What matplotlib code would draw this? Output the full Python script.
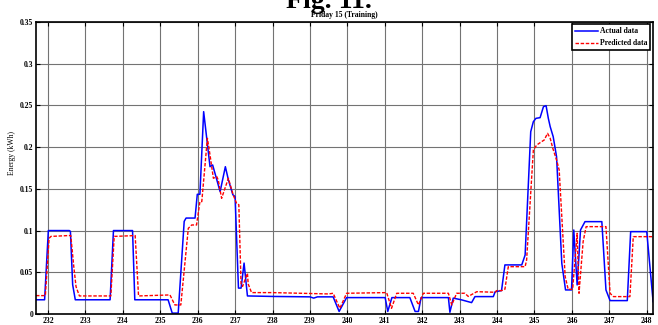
import numpy as np
import matplotlib
matplotlib.use('Agg')
import matplotlib.pyplot as plt

plt.rcParams['font.family'] = ['Liberation Serif', 'DejaVu Serif']
plt.rcParams['font.weight'] = 'bold'

# actual data (blue)
actual_x = [231.68, 231.91, 232.01, 232.57, 232.60, 232.66, 232.73, 233.66, 233.75,
            234.26, 234.32, 235.21, 235.32, 235.48, 235.64, 235.69, 235.93, 235.99,
            236.06, 236.16, 236.33, 236.40, 236.60, 236.74, 236.82, 236.94, 237.00,
            237.09, 237.16, 237.24, 237.33, 238.00, 239.00, 239.10, 239.20, 239.62,
            239.78, 239.98, 241.01, 241.08, 241.19, 241.67, 241.81, 241.90, 241.97,
            242.70, 242.74, 242.83, 243.06, 243.32, 243.41, 243.90, 243.95, 244.12,
            244.21, 244.66, 244.75, 244.90, 244.97, 245.04, 245.15, 245.24, 245.31,
            245.37, 245.42, 245.50, 245.59, 245.73, 245.83, 245.99, 246.05, 246.14,
            246.23, 246.35, 246.80, 246.91, 247.02, 247.48, 247.57, 248.00, 248.17]
actual_y = [0.017, 0.017, 0.100, 0.100, 0.099, 0.035, 0.017, 0.017, 0.100,
            0.100, 0.017, 0.017, 0.001, 0.001, 0.111, 0.115, 0.115, 0.1435,
            0.1435, 0.2426, 0.1766, 0.1787, 0.1467, 0.1766, 0.161, 0.143, 0.1407,
            0.031, 0.031, 0.061, 0.0216, 0.021, 0.0205, 0.019, 0.0205, 0.0205,
            0.003, 0.0196, 0.0196, 0.003, 0.0196, 0.0196, 0.003, 0.003, 0.0196,
            0.0196, 0.002, 0.019, 0.0168, 0.0136, 0.0208, 0.0208, 0.0267, 0.028,
            0.0588, 0.0588, 0.0707, 0.2186, 0.2306, 0.2346, 0.2354, 0.2486, 0.2498,
            0.2346, 0.2246, 0.2126, 0.1886, 0.0608, 0.0288, 0.0288, 0.1007, 0.0348,
            0.1007, 0.1107, 0.1107, 0.0288, 0.016, 0.016, 0.0987, 0.0987, 0.0147]

# predicted data (red)
pred_x = [231.68, 231.93, 232.03, 232.08, 232.55, 232.61, 232.69, 232.75, 232.84,
          233.68, 233.77, 234.33, 234.42, 235.26, 235.39, 235.55, 235.75, 235.84,
          235.97, 236.06, 236.11, 236.26, 236.33, 236.42, 236.51, 236.55, 236.64,
          236.82, 236.95, 237.04, 237.10, 237.16, 237.20, 237.33, 237.35, 237.44,
          238.00, 239.50, 239.62, 239.80, 239.98, 241.05, 241.18, 241.32, 241.76,
          241.90, 242.03, 242.70, 242.79, 242.92, 243.14, 243.23, 243.46, 243.95,
          243.99, 244.12, 244.21, 244.30, 244.75, 244.79, 244.97, 245.06, 245.19,
          245.26, 245.35, 245.42, 245.49, 245.59, 245.66, 245.82, 245.90, 246.02,
          246.14, 246.19, 246.30, 246.38, 246.91, 247.02, 247.11, 247.55, 247.64,
          248.19]
pred_y = [0.022, 0.022, 0.0907, 0.093, 0.094, 0.094, 0.0567, 0.0327, 0.0216,
          0.0216, 0.093, 0.094, 0.0216, 0.0228, 0.0108, 0.0108, 0.1027, 0.1067,
          0.1067, 0.1347, 0.1347, 0.2106, 0.1906, 0.1627, 0.1647, 0.1607, 0.1387,
          0.1627, 0.1427, 0.1327, 0.131, 0.0348, 0.033, 0.0488, 0.036, 0.0256,
          0.0256, 0.024, 0.0248, 0.0068, 0.0248, 0.0256, 0.0068, 0.0248, 0.0248,
          0.0108, 0.0248, 0.0248, 0.0108, 0.0248, 0.0248, 0.021, 0.0267, 0.026,
          0.028, 0.028, 0.0296, 0.0567, 0.0567, 0.0647, 0.1966, 0.2026, 0.2066,
          0.2086, 0.2166, 0.2106, 0.1986, 0.1847, 0.1727, 0.0448, 0.0296, 0.0296,
          0.0967, 0.0248, 0.0867, 0.1047, 0.1047, 0.0248, 0.0208, 0.0208, 0.0927,
          0.0927]

x_ticks = list(range(232, 249))
y_ticks = [0, 0.05, 0.1, 0.15, 0.2, 0.25, 0.3, 0.35]
y_tick_labels = ['0', '0.05', '0.1', '0.15', '0.2', '0.25', '0.3', '0.35']

fig = plt.figure(figsize=(6.58, 3.25), dpi=100)
ax = fig.add_axes([0.0547, 0.034, 0.9373, 0.898])

ax.plot(actual_x, actual_y, color='#0000ff', lw=1.1, label='Actual data')
ax.plot(pred_x, pred_y, color='#ff0000', lw=1.0, ls=(0, (2.5, 1.2)), label='Predicted data')

ax.set_xlim(231.68, 248.16)
ax.set_ylim(0, 0.35)
ax.set_xticks(x_ticks)
ax.set_yticks(y_ticks)
ax.set_yticklabels(y_tick_labels)
ax.grid(True, color='0.45', lw=0.8)
ax.tick_params(direction='in', length=3, width=0.8, labelsize=5.5, pad=2,
               top=True, right=True)
for s in ax.spines.values():
    s.set_linewidth(1.2)

ax.set_ylabel('Energy (kWh)', fontsize=5.5, fontweight='normal')
ax.yaxis.set_label_coords(-0.033, 0.55)
ax.set_title('Friday 15 (Training)', fontsize=5.5, fontweight='bold', pad=4)

fig.text(0.5, 0.975, 'Fig. 11.', fontsize=20, fontweight='bold', ha='center', va='baseline')

leg = ax.legend(loc='upper right', fontsize=5.5, handlelength=2.9, borderaxespad=0.3,
                fancybox=False, framealpha=1, edgecolor='black', borderpad=0.4,
                labelspacing=0.5, handletextpad=0.3)
leg.get_frame().set_linewidth(1.2)

fig.savefig('out.png', dpi=100)
